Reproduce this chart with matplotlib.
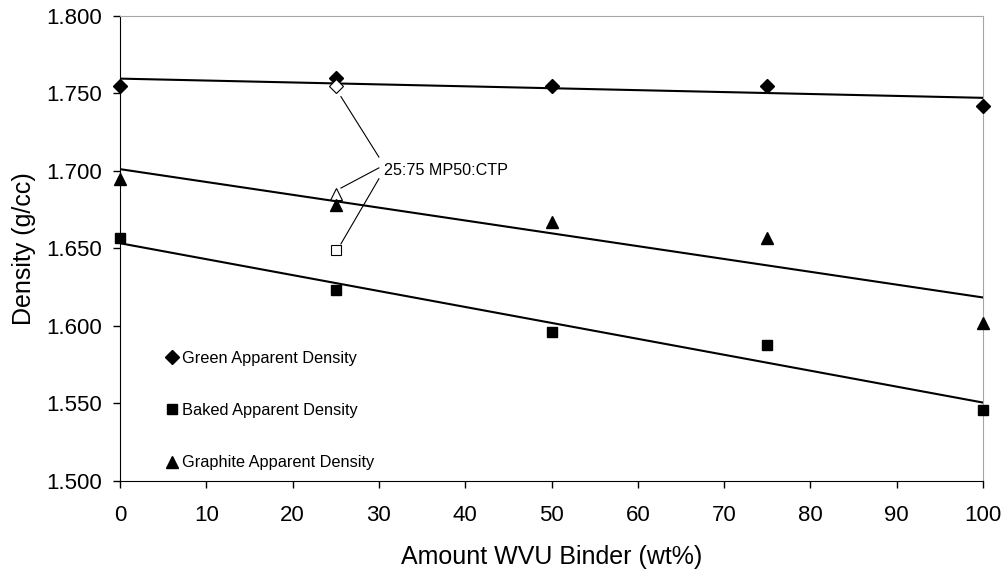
"""Density vs amount of WVU binder, with linear trend lines."""

import matplotlib.pyplot as plt
import numpy as np

plt.rcParams["font.family"] = ["Liberation Sans", "DejaVu Sans"]

binder_wt = [0, 25, 50, 75, 100]
green_density = [1.755, 1.760, 1.755, 1.755, 1.742]
baked_density = [1.657, 1.623, 1.596, 1.588, 1.546]
graphite_density = [1.695, 1.678, 1.667, 1.657, 1.602]

# 25:75 MP50:CTP reference samples (open symbols)
ref_x = 25
ref_green = 1.755
ref_baked = 1.649
ref_graphite = 1.685

series = [
    ("Green Apparent Density", green_density, "D", 7.5),
    ("Baked Apparent Density", baked_density, "s", 7),
    ("Graphite Apparent Density", graphite_density, "^", 8.5),
]

fig = plt.figure(figsize=(10.05, 5.71), dpi=100)
ax = fig.add_axes([120 / 1005, 1 - 481 / 571, 863 / 1005, 465 / 571])

x = np.array(binder_wt, dtype=float)
xs = np.array([0.0, 100.0])
for label, ys, mk, ms in series:
    ax.plot(x, ys, linestyle="none", marker=mk, ms=ms, color="black", label=label, clip_on=False, zorder=4)
    slope, icpt = np.polyfit(x, ys, 1)
    ax.plot(xs, slope * xs + icpt, color="black", lw=1.5, zorder=3)

ax.plot([ref_x], [ref_green], "D", ms=7.5, mfc="white", mec="black", mew=0.8, zorder=5)
ax.plot([ref_x], [ref_graphite], "^", ms=8.5, mfc="white", mec="black", mew=0.8, zorder=2)
ax.plot([ref_x], [ref_baked], "s", ms=7, mfc="white", mec="black", mew=0.8, zorder=5)

# annotation text with leader lines
ax.text(30.6, 1.7005, "25:75 MP50:CTP", fontsize=11.6, va="center", ha="left")
ax.plot([30.0, 25.6], [1.709, 1.748], color="black", lw=0.8)
ax.plot([30.0, 25.6], [1.702, 1.689], color="black", lw=0.8)
ax.plot([30.0, 25.6], [1.695, 1.653], color="black", lw=0.8)

ax.set_xlim(0, 100)
ax.set_ylim(1.5, 1.8)
ax.set_xticks(np.arange(0, 101, 10))
ax.set_yticks(np.arange(1.5, 1.801, 0.05))
ax.set_yticklabels([f"{v:.3f}" for v in np.arange(1.5, 1.801, 0.05)])
ax.tick_params(axis="both", labelsize=16, direction="out", length=5, width=1, color="black")
ax.tick_params(axis="x", pad=12)
ax.tick_params(axis="y", pad=8)
ax.set_xlabel("Amount WVU Binder (wt%)", fontsize=18, labelpad=14)
ax.set_ylabel("Density (g/cc)", fontsize=18, labelpad=7)

for side in ("top", "right"):
    ax.spines[side].set_color("#a6a6a6")
for side in ("left", "bottom"):
    ax.spines[side].set_color("black")

ax.legend(loc="lower left", bbox_to_anchor=(0.042, 0.0), frameon=False, fontsize=11.8,
          handlelength=0.6, handletextpad=0.3, labelspacing=2.27, borderaxespad=0.25)

fig.savefig("out.png", dpi=100)
